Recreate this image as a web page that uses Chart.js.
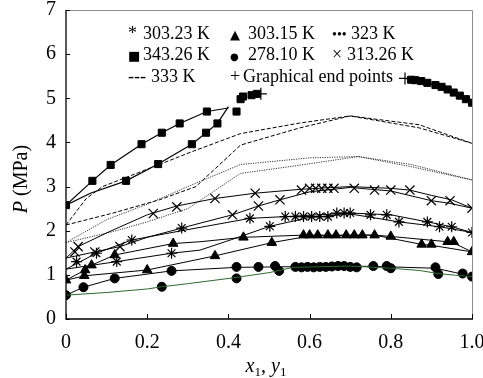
<!DOCTYPE html>
<html><head><meta charset="utf-8">
<script src="https://cdn.jsdelivr.net/npm/chart.js@4/dist/chart.umd.min.js"></script>
<style>html,body{margin:0;padding:0;background:#fff}canvas{display:block}</style>
</head><body>
<canvas id="c" width="483" height="378"></canvas>
<script>
// ---- tick values ----
const xTickVals = [0, 0.2, 0.4, 0.6, 0.8, 1.0];
const yTickVals = [0, 1, 2, 3, 4, 5, 6, 7];

// ---- 278.10 K (circles) ----
const c278GreenX = [0,0.1,0.2,0.236,0.3,0.41,0.5,0.56,0.7,0.8,0.87,0.917,0.96,1.0];
const c278GreenP = [0.54,0.6,0.68,0.73,0.8,0.93,1.05,1.17,1.2,1.15,1.1,1.03,0.99,0.96];
const c278BlackX = [0,0.043,0.12,0.26,0.42,0.52,0.7,0.8,0.91,0.96,1.0];
const c278BlackP = [0.54,0.72,0.92,1.09,1.17,1.18,1.2,1.18,1.15,1.05,0.96];
const m278X = [0,0.043,0.12,0.236,0.26,0.42,0.42,0.474,0.515,0.525,0.565,0.58,0.595,0.61,0.625,0.64,0.655,0.67,0.685,0.7,0.716,0.757,0.79,0.8,0.91,0.917,0.977,1.0];
const m278P = [0.54,0.72,0.92,0.73,1.09,1.18,0.92,1.18,1.2,1.09,1.18,1.17,1.18,1.17,1.18,1.18,1.19,1.2,1.2,1.18,1.17,1.2,1.2,1.15,1.17,1.02,1.03,0.96];

// ---- 303.15 K (triangles) ----
const c30315UpX = [0,0.047,0.063,0.12,0.264,0.33,0.437,0.585,0.76,0.8,0.94,0.955,1.0];
const c30315UpP = [0.88,1.11,1.22,1.45,1.71,1.75,1.85,1.9,1.9,1.87,1.75,1.72,1.52];
const c30315LoX = [0,0.047,0.2,0.367,0.507,0.6,0.76,0.876,0.9,1.0];
const c30315LoP = [0.88,0.98,1.11,1.43,1.73,1.88,1.9,1.69,1.67,1.52];
const m30315X = [0,0.045,0.047,0.063,0.12,0.2,0.264,0.367,0.437,0.507,0.585,0.6,0.62,0.645,0.665,0.69,0.71,0.73,0.76,0.8,0.876,0.9,0.94,0.955,1.0];
const m30315P = [0.88,0.98,1.11,1.22,1.45,1.11,1.71,1.43,1.85,1.73,1.9,1.9,1.9,1.9,1.9,1.9,1.9,1.9,1.9,1.87,1.69,1.69,1.75,1.75,1.52];

// ---- 303.23 K (asterisks) ----
const c30323UpX = [0,0.075,0.162,0.285,0.453,0.54,0.7,0.8,0.89,0.95,1.0];
const c30323UpP = [1.13,1.49,1.79,2.0,2.28,2.32,2.4,2.36,2.2,2.09,1.96];
const c30323LoX = [0,0.125,0.26,0.33,0.408,0.502,0.6,0.7,0.82,0.92,1.0];
const c30323LoP = [1.13,1.3,1.49,1.56,1.8,2.1,2.3,2.38,2.2,2.09,1.96];
const m30323X = [0.026,0.075,0.125,0.162,0.26,0.285,0.453,0.502,0.54,0.565,0.585,0.605,0.625,0.645,0.667,0.685,0.7,0.75,0.79,0.82,0.89,0.92,0.95,1.0];
const m30323P = [1.3,1.49,1.3,1.79,1.49,2.06,2.28,2.1,2.32,2.32,2.32,2.32,2.32,2.32,2.4,2.4,2.4,2.36,2.36,2.2,2.2,2.09,2.09,1.96];

// ---- 313.26 K (crosses) ----
const c313UpX = [0,0.03,0.1,0.2,0.273,0.367,0.466,0.58,0.7,0.8,0.847,0.9,0.95,1.0];
const c313UpP = [1.38,1.64,1.95,2.36,2.56,2.73,2.85,2.94,3.0,2.96,2.92,2.8,2.7,2.51];
const c313LoX = [0,0.071,0.133,0.2,0.33,0.41,0.474,0.527,0.6,0.7,0.8,0.9,0.946,1.0];
const c313LoP = [1.38,1.52,1.64,1.85,2.17,2.36,2.56,2.7,2.88,2.98,2.9,2.68,2.62,2.51];
const m313X = [0.022,0.03,0.071,0.133,0.215,0.273,0.367,0.41,0.466,0.474,0.527,0.58,0.6,0.615,0.63,0.645,0.66,0.71,0.76,0.8,0.847,0.9,0.946,1.0];
const m313P = [1.52,1.64,1.52,1.64,2.39,2.54,2.73,2.36,2.85,2.56,2.7,2.92,2.96,2.96,2.96,2.96,2.96,2.96,2.92,2.92,2.92,2.68,2.68,2.51];

// ---- 323 K (dotted) ----
const c323UpX = [0,0.1,0.2,0.3,0.43,0.6,0.72,0.85,1.0];
const c323UpP = [1.73,2.25,2.6,3.0,3.5,3.65,3.68,3.5,3.15];
const c323LoX = [0,0.116,0.2,0.3,0.43,0.55,0.72,0.85,1.0];
const c323LoP = [1.73,1.98,2.2,2.5,3.3,3.45,3.68,3.45,3.15];

// ---- 333 K (dashed) ----
const c333UpX = [0,0.05,0.09,0.23,0.31,0.43,0.576,0.7,0.87,1.0];
const c333UpP = [2.13,2.73,3.0,3.5,3.79,4.2,4.44,4.6,4.4,3.98];
const c333LoX = [0,0.116,0.23,0.32,0.43,0.576,0.7,0.87,1.0];
const c333LoP = [2.13,2.4,2.7,3.0,3.94,4.33,4.6,4.33,3.98];

// ---- 343.26 K (squares) ----
const c343UpX = [0,0.065,0.11,0.186,0.236,0.28,0.347,0.40];
const c343UpP = [2.58,3.13,3.49,3.96,4.22,4.43,4.70,4.78];
const c343LoX = [0,0.06,0.148,0.227,0.31,0.345,0.373,0.40];
const c343LoP = [2.58,2.85,3.13,3.51,3.96,4.22,4.43,4.81];
const c343RightX = [0.835,0.85,0.86,0.875,0.89,0.91,0.925,0.94,0.955,0.97,0.985,1.0];
const c343RightP = [5.45,5.42,5.41,5.39,5.35,5.3,5.26,5.2,5.13,5.06,4.98,4.9];
const m343X = [0,0.065,0.11,0.186,0.236,0.28,0.347,0.148,0.227,0.31,0.345,0.373,0.42,0.43,0.436,0.457,0.47,0.85,0.86,0.875,0.89,0.91,0.925,0.94,0.955,0.97,0.985,1.0];
const m343P = [2.58,3.13,3.49,3.96,4.22,4.43,4.70,3.13,3.51,3.96,4.22,4.43,4.70,4.98,5.04,5.07,5.1,5.42,5.41,5.39,5.35,5.3,5.26,5.2,5.13,5.06,4.98,4.9];

// ---- graphical end points (+) ----
const endX = [0.48, 0.835];
const endP = [5.1, 5.45];

// ---- legend entries ----
const legendSymbols = ['*', '\u25B2', '\u2022\u2022\u2022', '\u25A0', '\u25CF', '\u00D7', '---', '+'];
const legendLabels = ['303.23 K', '303.15 K', '323 K', '343.26 K', '278.10 K', '313.26 K', '333 K', 'Graphical end points'];

function pts(xs, ps) { return xs.map((x, i) => ({ x: x, y: ps[i] })); }
function line(xs, ps, color, dash, w) {
  return { type: 'scatter', data: pts(xs, ps), showLine: true, borderColor: color, borderWidth: w || 1,
           borderDash: dash || [], pointRadius: 0, tension: 0, fill: false };
}
function marks(xs, ps, style, r, bw) {
  return { type: 'scatter', data: pts(xs, ps), showLine: false, pointStyle: style, pointRadius: r,
           pointBackgroundColor: '#000', pointBorderColor: '#000', pointBorderWidth: bw || 1 };
}

const serif = "'Liberation Serif', 'Times New Roman', serif";

const decor = {
  id: 'decor',
  afterDraw(chart) {
    const ctx = chart.ctx, a = chart.chartArea;
    const xs = chart.scales.x, ys = chart.scales.y;
    ctx.save();
    // frame: gray top/right
    ctx.strokeStyle = '#8c8c8c'; ctx.lineWidth = 1;
    ctx.beginPath();
    ctx.moveTo(a.left, a.top + 0.5); ctx.lineTo(a.right + 0.5, a.top + 0.5); ctx.lineTo(a.right + 0.5, a.bottom);
    ctx.stroke();
    // black axes
    ctx.strokeStyle = '#000'; ctx.lineWidth = 1.3;
    ctx.beginPath();
    ctx.moveTo(a.left, a.top); ctx.lineTo(a.left, a.bottom); ctx.lineTo(a.right + 1, a.bottom);
    ctx.stroke();
    // inward ticks
    ctx.lineWidth = 1;
    ctx.beginPath();
    yTickVals.forEach(v => { const y = Math.round(ys.getPixelForValue(v)) + 0.5; ctx.moveTo(a.left, y); ctx.lineTo(a.left + 4, y); });
    xTickVals.forEach(v => { const x = Math.round(xs.getPixelForValue(v)) + 0.5; ctx.moveTo(x, a.bottom); ctx.lineTo(x, a.bottom - 5); });
    ctx.stroke();

    // legend text
    ctx.fillStyle = '#000';
    ctx.textBaseline = 'alphabetic';
    ctx.textAlign = 'left';
    const colSym = [128, 230, 332];
    const colTxt = [143, 248, 351];
    const rowY = [38.5, 60, 81.5];
    for (let i = 0; i < legendLabels.length; i++) {
      const r = Math.floor(i / 3), c = i % 3;
      let symFont = "18px " + serif;
      if (legendSymbols[i] === '\u25B2' || legendSymbols[i] === '\u25A0') symFont = "13px 'DejaVu Sans', sans-serif";
      if (legendSymbols[i] === '\u25CF') symFont = "10px 'DejaVu Sans', sans-serif";
      if (legendSymbols[i] === '\u2022\u2022\u2022') symFont = "14px " + serif;
      ctx.font = symFont;
      ctx.fillText(legendSymbols[i], colSym[c], rowY[r]);
      ctx.font = "18px " + serif;
      let tx = colTxt[c];
      if (legendSymbols[i] === '---') tx = 151;
      if (legendSymbols[i] === '+') tx = 243;
      if (legendSymbols[i] === '\u00D7') tx = 347;
      ctx.fillText(legendLabels[i], tx, rowY[r]);
    }

    // x axis title: x1, y1
    const parts = [
      { t: 'x', f: "italic 20px " + serif, dy: 0 },
      { t: '1', f: "13px " + serif, dy: 4 },
      { t: ', ', f: "20px " + serif, dy: 0 },
      { t: 'y', f: "italic 20px " + serif, dy: 0 },
      { t: '1', f: "13px " + serif, dy: 4 }
    ];
    let total = 0;
    parts.forEach(p => { ctx.font = p.f; p.w = ctx.measureText(p.t).width; total += p.w; });
    let px = (a.left + a.right) / 2 - total / 2 - 3;
    const base = 372;
    parts.forEach(p => { ctx.font = p.f; ctx.fillText(p.t, px, base + p.dy); px += p.w; });

    // y axis title: P (MPa)
    ctx.save();
    ctx.translate(27, 179);
    ctx.rotate(-Math.PI / 2);
    const yp = [
      { t: 'P', f: "italic 20px " + serif },
      { t: ' (MPa)', f: "20px " + serif }
    ];
    let tw = 0;
    yp.forEach(p => { ctx.font = p.f; p.w = ctx.measureText(p.t).width; tw += p.w; });
    let qx = -tw / 2;
    yp.forEach(p => { ctx.font = p.f; ctx.fillText(p.t, qx, 0); qx += p.w; });
    ctx.restore();

    ctx.restore();
  }
};

const datasets = [
  line(c278GreenX, c278GreenP, '#2d6a2d', [], 1),
  line(c278BlackX, c278BlackP, '#000', [], 1),
  line(c30315UpX, c30315UpP, '#000', [], 1),
  line(c30315LoX, c30315LoP, '#000', [], 1),
  line(c30323UpX, c30323UpP, '#000', [], 1),
  line(c30323LoX, c30323LoP, '#000', [], 1),
  line(c313UpX, c313UpP, '#000', [], 1),
  line(c313LoX, c313LoP, '#000', [], 1),
  line(c323UpX, c323UpP, '#333', [1.2, 1.2], 1),
  line(c323LoX, c323LoP, '#333', [1.2, 1.2], 1),
  line(c333UpX, c333UpP, '#000', [4, 2], 1),
  line(c333LoX, c333LoP, '#000', [4, 2], 1),
  line(c343UpX, c343UpP, '#000', [], 1.2),
  line(c343LoX, c343LoP, '#000', [], 1.2),
  line(c343RightX, c343RightP, '#000', [], 1.2),
  marks(m278X, m278P, 'circle', 4.5),
  marks(m30315X, m30315P, 'triangle', 5.5),
  marks(m30323X, m30323P, 'star', 5.5, 1.2),
  marks(m313X, m313P, 'crossRot', 6.5, 1.2),
  marks(m343X, m343P, 'rect', 5),
  marks(endX, endP, 'cross', 6, 1.2)
];

new Chart(document.getElementById('c'), {
  type: 'scatter',
  data: { datasets: datasets },
  options: {
    responsive: false,
    animation: false,
    devicePixelRatio: 1,
    layout: { padding: { top: 10, right: 11, left: 0, bottom: 0 } },
    plugins: { legend: { display: false }, tooltip: { enabled: false }, title: { display: false } },
    scales: {
      x: {
        type: 'linear', min: 0, max: 1,
        grid: { display: false, drawTicks: false }, border: { display: false },
        afterBuildTicks: s => { s.ticks = xTickVals.map(v => ({ value: v })); },
        ticks: { color: '#000', font: { family: serif, size: 20 }, padding: 12, maxRotation: 0, autoSkip: false,
                 callback: v => (v === 0 ? '0' : v.toFixed(1)) },
        afterFit: s => { s.height = 59; s.paddingLeft = 0; s.paddingRight = 0; }
      },
      y: {
        type: 'linear', min: 0, max: 7,
        grid: { display: false, drawTicks: false }, border: { display: false },
        afterBuildTicks: s => { s.ticks = yTickVals.map(v => ({ value: v })); },
        ticks: { color: '#000', font: { family: serif, size: 20 }, padding: 10, autoSkip: false,
                 callback: v => String(v) },
        afterFit: s => { s.width = 66; s.paddingTop = 0; s.paddingBottom = 0; }
      }
    }
  },
  plugins: [decor]
});
</script>
</body></html>
